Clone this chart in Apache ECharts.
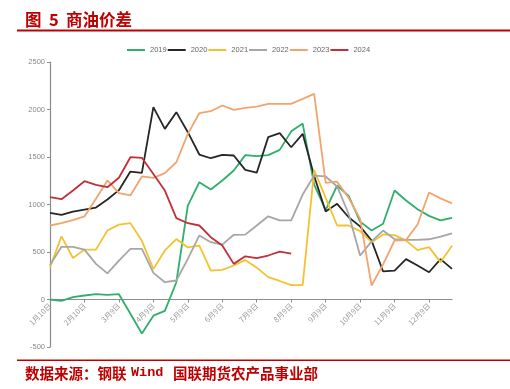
<!DOCTYPE html>
<html><head><meta charset="utf-8">
<script src="https://cdn.jsdelivr.net/npm/echarts@6/dist/echarts.min.js"></script>
<style>html,body{margin:0;padding:0;background:#fff}#c{width:510px;height:389px}</style>
</head><body><div id="c"></div>
<script>
var categories = ["1月10日","1月20日","1月31日","2月10日","2月20日","2月28日","3月9日","3月19日","3月29日",
"4月9日","4月19日","4月29日","5月9日","5月19日","5月29日","6月9日","6月19日","6月29日",
"7月9日","7月19日","7月29日","8月9日","8月19日","8月29日","9月9日","9月19日","9月29日",
"10月9日","10月19日","10月29日","11月9日","11月19日","11月29日","12月9日","12月19日","12月29日"];
var yTicks = [-500, 0, 500, 1000, 1500, 2000, 2500];
var names = ["2019","2020","2021","2022","2023","2024"];
var s2019 = [0,-14,25,42,56,49,56,-150,-358,-170,-120,182,989,1235,1158,1253,1358,1520,1509,1520,1575,1770,1852,1210,940,1200,1090,820,726,797,1147,1042,950,880,832,860];
var s2020 = [912,891,926,947,968,1053,1151,1347,1333,2025,1796,1972,1761,1526,1487,1523,1516,1365,1335,1709,1751,1603,1744,1300,926,1007,866,770,620,295,305,425,358,287,425,323];
var s2021 = [340,665,437,525,525,726,788,804,618,320,516,636,548,568,305,312,358,415,335,235,195,152,152,1362,1070,779,779,720,603,685,678,620,520,551,393,565];
var s2022 = [362,555,555,525,375,275,410,533,533,280,182,200,428,674,603,577,681,683,779,876,832,832,1105,1305,1295,1190,900,463,612,726,634,627,627,634,662,697];
var s2023 = [779,803,835,874,1060,1253,1119,1095,1295,1281,1330,1445,1744,1961,1982,2042,1997,2018,2031,2060,2060,2060,2112,2165,1228,1240,1070,849,147,370,621,626,790,1127,1065,1012];
var s2024 = [1077,1056,1147,1245,1207,1182,1281,1498,1491,1320,1147,856,803,779,656,568,375,455,435,463,505,484];
var colors = ["#2FAE6C","#262626","#F2C230","#A6A6A6","#F2A46E","#C0303A"];
var data = [s2019,s2020,s2021,s2022,s2023,s2024];

var chart = echarts.init(document.getElementById('c'));
var series = names.map(function(n,i){
  return {name:n,type:'line',data:data[i],symbol:'none',smooth:false,
    lineStyle:{color:colors[i],width:1.8},itemStyle:{color:colors[i]}};
});
var red = '#C00000';
chart.setOption({
  animation:false,
  color:colors,
  graphic:[
    {type:'text',x:25,y:19.5,style:{text:'图',fill:red,font:'bold 16.5px "Noto Sans CJK SC"',verticalAlign:'middle'}},
    {type:'text',x:49,y:19.5,style:{text:'5',fill:red,font:'bold 16.5px "Noto Sans CJK SC"',verticalAlign:'middle'}},
    {type:'text',x:66,y:19.5,style:{text:'商油价差',fill:red,font:'bold 16.5px "Noto Sans CJK SC"',verticalAlign:'middle'}},
    {type:'rect',shape:{x:17,y:29.5,width:493,height:2},style:{fill:red}},
    {type:'rect',shape:{x:17,y:359.5,width:493,height:1.5},style:{fill:red}},
    {type:'text',x:25,y:373,style:{text:'数据来源：钢联',fill:red,font:'bold 14.5px "Noto Sans CJK SC"',verticalAlign:'middle'}},
    {type:'text',x:131,y:373,style:{text:'Wind',fill:red,font:'bold 13.5px "Liberation Mono"',verticalAlign:'middle'}},
    {type:'text',x:173,y:373,style:{text:'国联期货农产品事业部',fill:red,font:'bold 14.5px "Noto Sans CJK SC"',verticalAlign:'middle'}}
  ],
  legend:{top:41,left:122,itemWidth:18,itemHeight:2,itemGap:1,icon:'rect',
    textStyle:{fontSize:7.5,color:'#666',fontFamily:'Liberation Sans'},data:names},
  grid:{left:50,right:58,top:62,bottom:42,containLabel:false},
  xAxis:{type:'category',data:categories,boundaryGap:false,position:'bottom',offset:-47.5,
    axisLine:{onZero:false,lineStyle:{color:'#8c8c8c',width:1.2}},
    axisTick:{interval:2,length:3,lineStyle:{color:'#8c8c8c'}},
    axisLabel:{interval:2,rotate:45,fontSize:7.5,color:'#999',margin:5,fontFamily:'Noto Sans CJK SC'},
    splitLine:{show:false}},
  yAxis:{type:'value',min:yTicks[0],max:yTicks[yTicks.length-1],interval:500,
    axisLine:{show:true,onZero:false,lineStyle:{color:'#8c8c8c',width:1.2}},
    axisTick:{show:true,length:3,lineStyle:{color:'#8c8c8c'}},
    axisLabel:{fontSize:7.5,color:'#888',margin:5,fontFamily:'Liberation Sans',showMinLabel:true,showMaxLabel:true,hideOverlap:false,formatter:function(v){return String(v);}},
    splitLine:{show:false}},
  series:series
});
</script></body></html>
